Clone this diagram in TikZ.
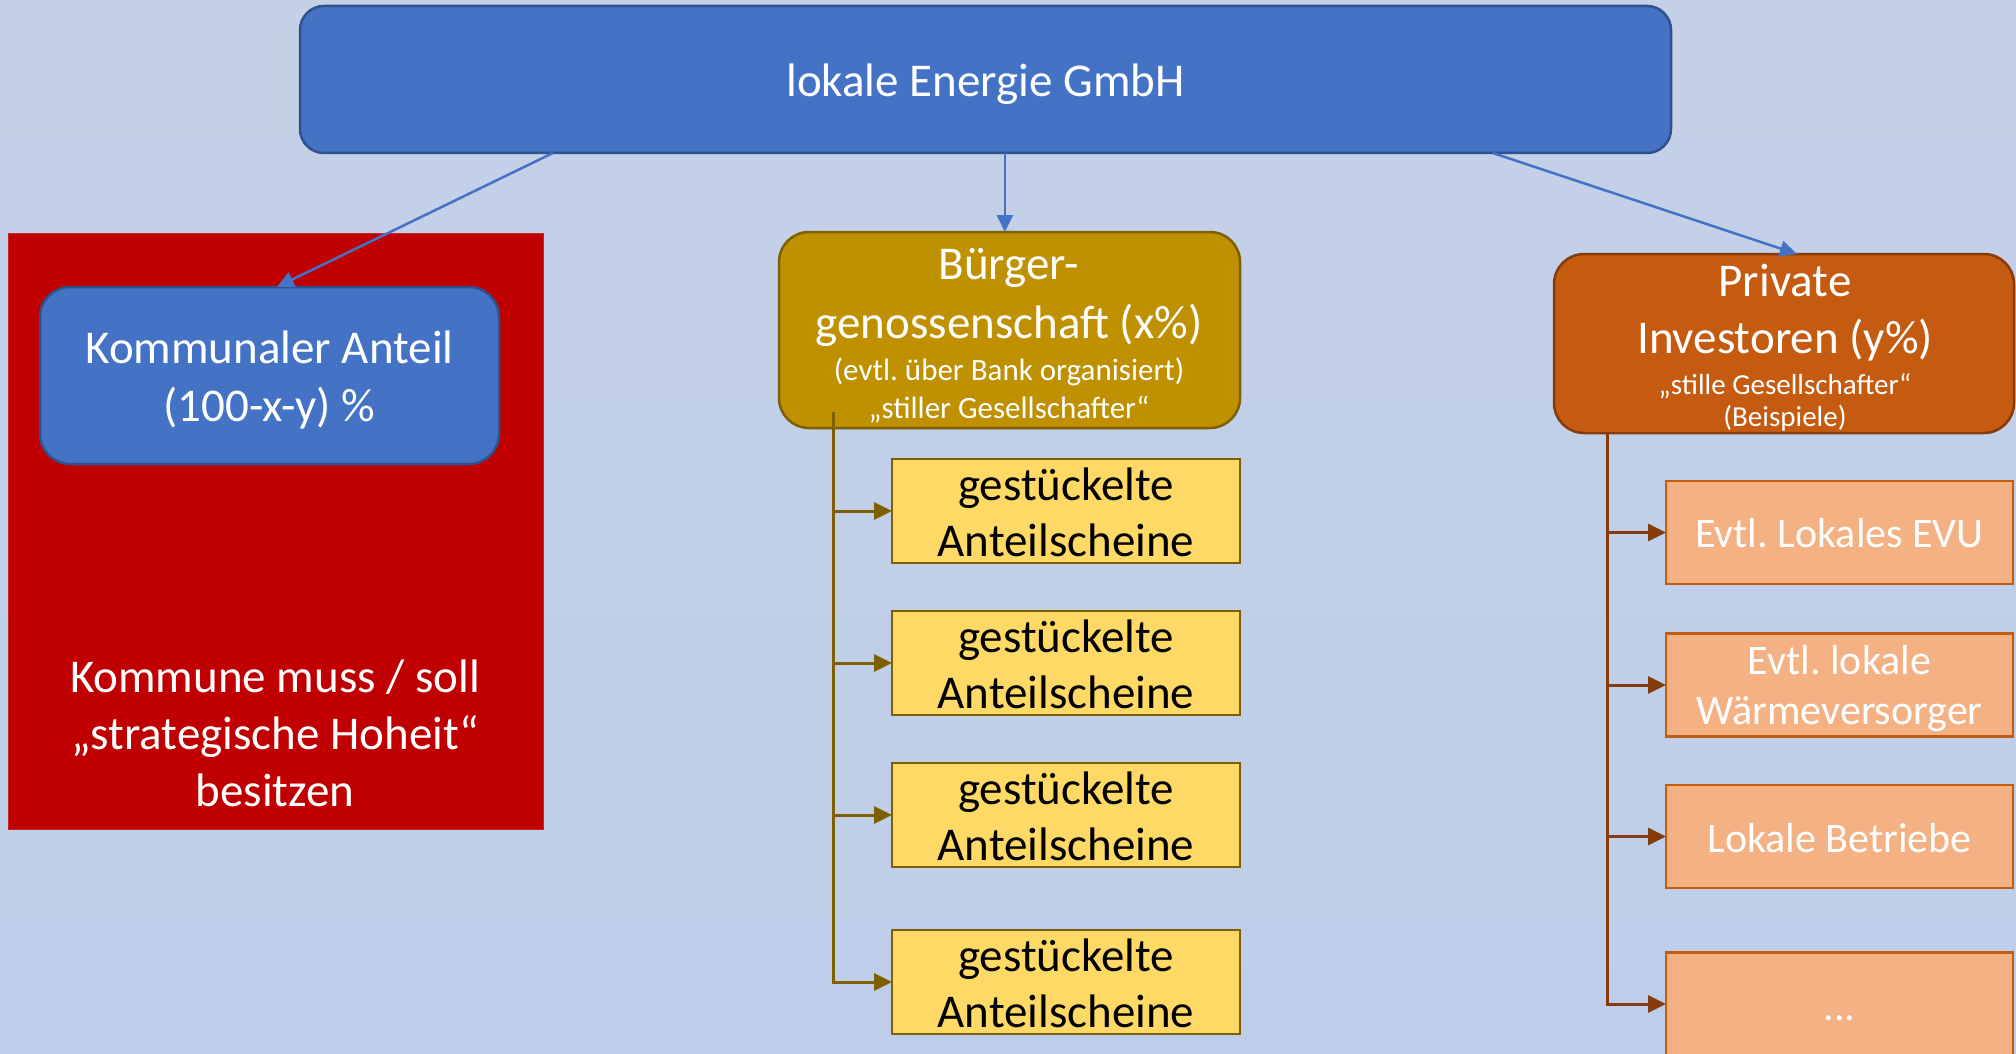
\documentclass[tikz,border=0pt]{standalone}
\usepackage{fontspec}
\setmainfont{Carlito}
\usetikzlibrary{arrows.meta,calc}
\definecolor{bgtop}{HTML}{C4D0E6}
\definecolor{bgmid}{HTML}{AABEE5}
\definecolor{bgbot}{HTML}{BECEEA}
\definecolor{blueF}{HTML}{4472C4}
\definecolor{blueD}{HTML}{2F528F}
\definecolor{redF}{HTML}{C00000}
\definecolor{goldF}{HTML}{BF9000}
\definecolor{goldD}{HTML}{7F6000}
\definecolor{yelF}{HTML}{FFD966}
\definecolor{orF}{HTML}{C55A11}
\definecolor{orD}{HTML}{843C0C}
\definecolor{peachF}{HTML}{F4B183}
\frenchspacing
\begin{document}
\begin{tikzpicture}[x=1pt,y=-1pt,
  box/.style={inner sep=0pt, outer sep=0pt, line width=2.5pt},
  big/.style={font=\fontsize{47}{56}\selectfont, text=white, anchor=base, inner sep=0pt},
  small/.style={font=\fontsize{31}{36}\selectfont, text=white, anchor=base, inner sep=0pt},
  ytxt/.style={font=\fontsize{47}{56}\selectfont, text=black, anchor=base, inner sep=0pt},
  otxt/.style={font=\fontsize{42}{50}\selectfont, text=white, anchor=base, inner sep=0pt},
  ybox/.style={box, fill=yelF, draw=goldD, minimum width=348pt, minimum height=104pt},
  obox/.style={box, fill=peachF, draw=orF, minimum width=347pt, minimum height=103pt},
  bluearrow/.style={draw=blueF, line width=2.5pt, -{Triangle[length=17pt,width=16pt]}},
  goldarrow/.style={draw=goldD, line width=3pt, -{Triangle[length=18pt,width=17pt]}},
  orarrow/.style={draw=orD, line width=3pt, -{Triangle[length=18pt,width=17pt]}}
]
\clip (0,0) rectangle (2016,1054);
\shade[top color=bgtop, middle color=bgmid, bottom color=bgbot] (0,0) rectangle (2016,1054);

% top
\node[box, rounded corners=24pt, fill=blueF, draw=blueD, minimum width=1371pt, minimum height=147pt] (top) at (985.5,79.5) {};
\node[big] (toptxt) at (985.5,97) {lokale Energie GmbH};

% red block
\node[box, fill=redF, draw=redF!85!white, line width=1pt, minimum width=535pt, minimum height=596pt] (red) at (275.5,531) {};
\node[box, rounded corners=30pt, fill=blueF, draw=blueD, minimum width=459pt, minimum height=177pt] (kom) at (269.5,375.5) {};
\node[big] (kom1) at (269.5,363) {Kommunaler Anteil};
\node[big] (kom2) at (269.5,421) {(100-x-y) \%};
\node[big] (red1) at (275,692) {Kommune muss / soll};
\node[big] (red2) at (275,749) {„strategische Hoheit“};
\node[big] (red3) at (275,806) {besitzen};

% Buerger
\node[box, rounded corners=30pt, fill=goldF, draw=goldD, minimum width=461pt, minimum height=196pt] (bg) at (1009.5,330) {};
\node[big] (bg1) at (1009,279) {Bürger-};
\node[big] (bg2) at (1009,338) {genossenschaft (x\%)};
\node[small] (bg3) at (1009,380) {(evtl. über Bank organisiert)};
\node[small] (bg4) at (1009,418) {„stiller Gesellschafter“};

% Private
\node[box, rounded corners=30pt, fill=orF, draw=orD, minimum width=460pt, minimum height=179pt] (prv) at (1784,343.5) {};
\node[big] (pr1) at (1785,296) {Private};
\node[big] (pr2) at (1785,353) {Investoren (y\%)};
\node[small, font=\fontsize{29}{34}\selectfont] (pr3) at (1785,394) {„stille Gesellschafter“};
\node[small, font=\fontsize{29}{34}\selectfont] (pr4) at (1785,426) {(Beispiele)};

% yellow boxes
\foreach \i/\yy in {1/511,2/663,3/815,4/982}{
  \node[ybox] (y\i) at (1066,\yy) {};
  \node[ytxt] (y\i a) at (1066,\yy-11) {gestückelte};
  \node[ytxt] (y\i b) at (1066,\yy+45) {Anteilscheine};
}

% orange boxes
\node[obox] (o1) at (1839.5,532.5) {};
\node[otxt] (o1t) at (1839.5,547) {Evtl. Lokales EVU};
\node[obox] (o2) at (1839.5,685) {};
\node[otxt] (o2a) at (1839.5,674) {Evtl. lokale};
\node[otxt] (o2b) at (1839.5,724) {Wärmeversorger};
\node[obox] (o3) at (1839.5,836.5) {};
\node[otxt] (o3t) at (1839.5,852) {Lokale Betriebe};
\node[obox] (o4) at (1839.5,1004) {};
\node[otxt] (o4t) at (1839.5,1020) {...};

% top connectors
\coordinate (tl) at ($(top.south west)!0.1845!(top.south east)$);
\coordinate (tr) at ($(top.south west)!0.870!(top.south east)$);
\coordinate (kin) at ($(kom.north west)!0.516!(kom.north east)$);
\coordinate (bin) at ($(bg.north west)!0.490!(bg.north east)$);
\coordinate (pin) at ($(prv.north west)!0.528!(prv.north east)$);
\draw[bluearrow] (tl) -- (kin);
\draw[bluearrow] (bin |- top.south) -- (bin);
\draw[bluearrow] (tr) -- (pin);

% gold trunk
\coordinate (gtr) at ($(bg.south west)+(54,-16)$);
\draw[goldarrow] (gtr) |- (y4.west);
\foreach \i in {1,2,3}{
  \draw[goldarrow] (gtr |- y\i.west) -- (y\i.west);
}

% orange trunk
\coordinate (otr) at ($(prv.south west)+(53,0)$);
\draw[orarrow] (otr) |- (o4.west);
\foreach \i in {1,2,3}{
  \draw[orarrow] (otr |- o\i.west) -- (o\i.west);
}
\end{tikzpicture}
\end{document}
